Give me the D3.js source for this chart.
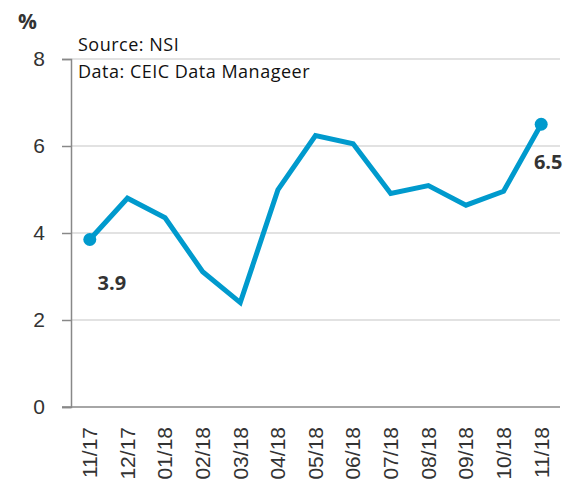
<!DOCTYPE html>
<html>
<head>
<meta charset="utf-8">
<script src="https://cdn.jsdelivr.net/npm/d3@7"></script>
<style>
  body { margin: 0; background: #fff; }
  svg { display: block; font-family: "Open Sans", "Liberation Sans", sans-serif; }
</style>
</head>
<body>
<svg width="575" height="489"></svg>
<script>
const months = ["11/17", "12/17", "01/18", "02/18", "03/18", "04/18", "05/18",
  "06/18", "07/18", "08/18", "09/18", "10/18", "11/18"];
const values = [3.85, 4.8, 4.35, 3.11, 2.4, 4.99, 6.24, 6.05, 4.91, 5.09, 4.64, 4.96, 6.5];
const yTicks = [0, 2, 4, 6, 8];
const endLabels = ["3.9", "6.5"];

const margin = { left: 71, right: 15, top: 59, bottom: 82 };
const width = 575;
const height = 489;

const svg = d3.select("svg");

const x = d3.scaleBand()
  .domain(months)
  .range([margin.left, width - margin.right]);

const y = d3.scaleLinear()
  .domain([0, 8])
  .range([height - margin.bottom, margin.top]);

// gridlines
svg.append("g")
  .selectAll("line")
  .data(yTicks.filter(d => d > 0))
  .join("line")
  .attr("x1", margin.left)
  .attr("x2", width - margin.right)
  .attr("y1", d => y(d))
  .attr("y2", d => y(d))
  .attr("stroke", "#d9d9d9")
  .attr("stroke-width", 1.5);

// y axis
const yAxis = svg.append("g")
  .attr("transform", `translate(${margin.left},0)`)
  .call(d3.axisLeft(y).tickValues(yTicks).tickSize(9).tickPadding(17));
yAxis.select(".domain").attr("stroke", "#888").attr("stroke-width", 1.5);
yAxis.selectAll(".tick line").attr("stroke", "#888").attr("stroke-width", 1.5);
yAxis.selectAll("text")
  .attr("fill", "#333")
  .style("font-size", "21px");

// x axis
const xAxis = svg.append("g")
  .attr("transform", `translate(0,${y(0)})`)
  .call(d3.axisBottom(x).tickSize(0).tickPadding(0));
xAxis.select(".domain")
  .attr("d", `M${margin.left - 9},0H${width - margin.right}`)
  .attr("stroke", "#888")
  .attr("stroke-width", 1.5);
xAxis.selectAll("text")
  .attr("fill", "#333")
  .style("font-size", "21px")
  .attr("text-anchor", "end")
  .attr("dy", "0.35em")
  .attr("transform", "translate(0,20) rotate(-90)");

// line
const cx = d => x(d) + x.bandwidth() / 2;
const line = d3.line()
  .x((d, i) => cx(months[i]))
  .y(d => y(d));

svg.append("path")
  .datum(values)
  .attr("d", line)
  .attr("fill", "none")
  .attr("stroke", "#009ACD")
  .attr("stroke-width", 5)
  .attr("stroke-linejoin", "miter");

// end points
const ends = [0, values.length - 1];
svg.append("g")
  .selectAll("circle")
  .data(ends)
  .join("circle")
  .attr("cx", i => cx(months[i]))
  .attr("cy", i => y(values[i]))
  .attr("r", 6.5)
  .attr("fill", "#009ACD");

svg.append("g")
  .selectAll("text")
  .data(ends)
  .join("text")
  .attr("x", (i, k) => cx(months[i]) + (k === 0 ? 22 : 7))
  .attr("y", (i, k) => y(values[i]) + (k === 0 ? 50 : 45))
  .attr("text-anchor", "middle")
  .attr("fill", "#333")
  .style("font-size", "20px")
  .style("font-weight", "bold")
  .text((i, k) => endLabels[k]);

// titles
svg.append("text")
  .attr("x", 18)
  .attr("y", 29)
  .attr("fill", "#333")
  .style("font-size", "21px")
  .style("font-weight", "bold")
  .text("%");

svg.append("text")
  .attr("x", 78)
  .attr("y", 51)
  .attr("fill", "#111")
  .style("font-size", "18px")
  .style("letter-spacing", "0.5px")
  .text("Source: NSI");

svg.append("text")
  .attr("x", 78)
  .attr("y", 78)
  .attr("fill", "#111")
  .style("font-size", "18px")
  .style("letter-spacing", "0.5px")
  .text("Data: CEIC Data  Manageer");
</script>
</body>
</html>
